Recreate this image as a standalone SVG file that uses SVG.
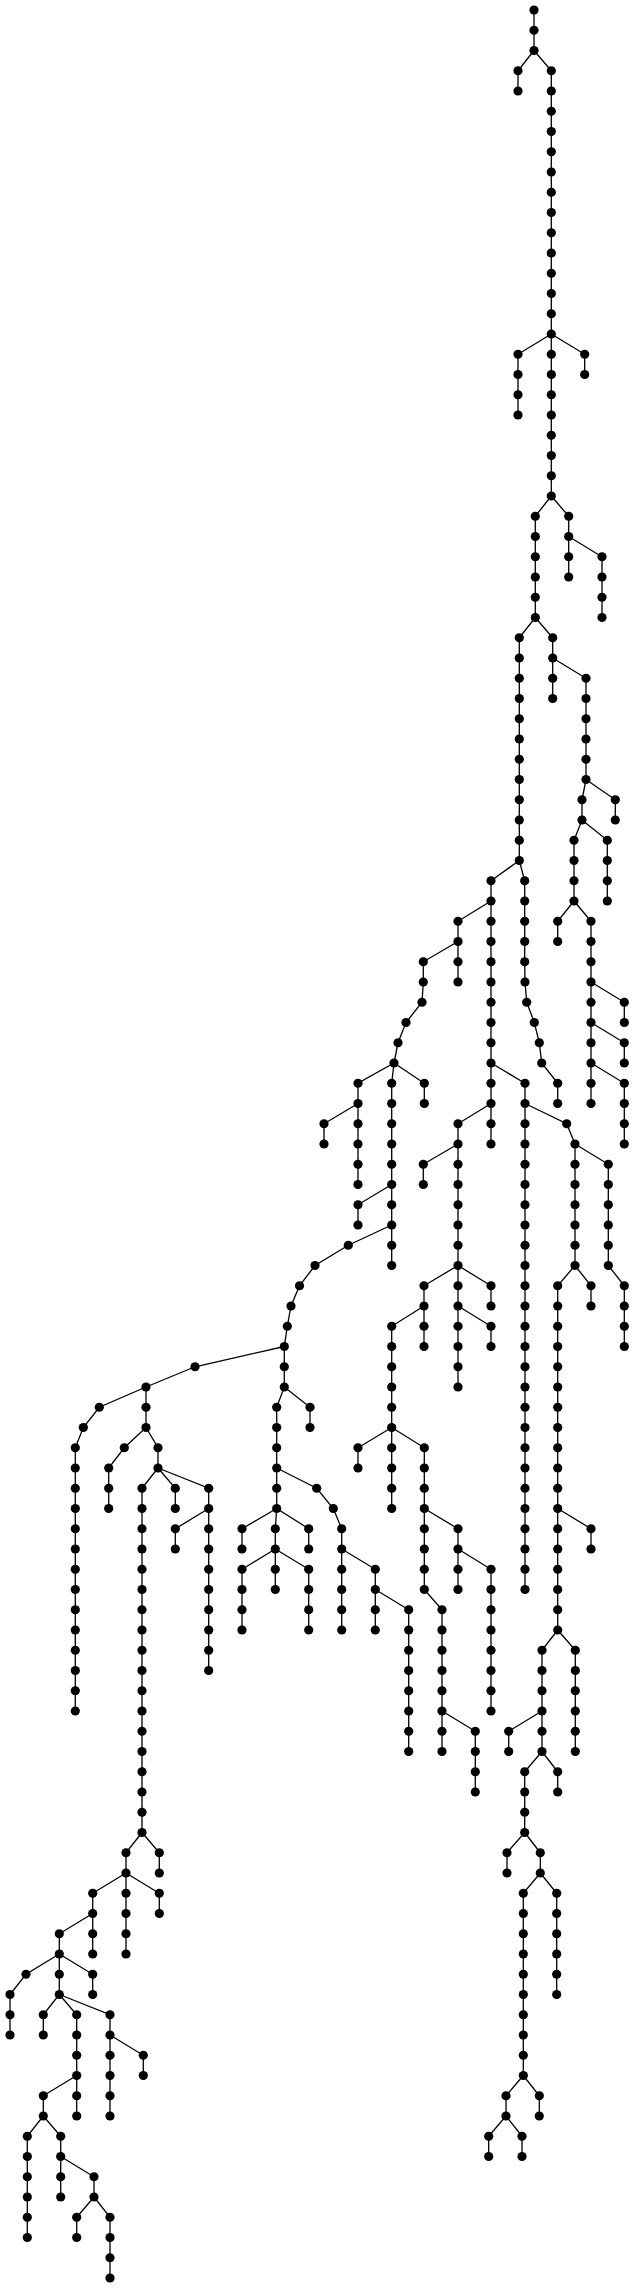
<svg xmlns="http://www.w3.org/2000/svg" width="635" height="2290" viewBox="0 0 635 2290">
<style>
.bg{fill:#fff}
#edges path{fill:none;stroke:#000;stroke-width:1.3}
.nd{fill:#000}
</style>
<defs><circle id="d" class="nd" cx="0" cy="0" r="4.6"/></defs>
<rect class="bg" x="0" y="0" width="635" height="2290"/>
<g id="edges">
<path d="M534 10V50.5"/>
<path d="M534 50.5L518 70.75V91"/>
<path d="M534 50.5L551.3 70.75V334"/>
<path d="M551.3 334L518 354.25V415"/>
<path d="M551.3 334V496"/>
<path d="M551.3 334L584.7 354.25V374.5"/>
<path d="M551.3 496L535.3 516.25V617.5"/>
<path d="M551.3 496L568.7 516.25V577"/>
<path d="M568.7 536.5L602 556.75V617.5"/>
<path d="M535.3 617.5L519.3 637.75V860.5"/>
<path d="M535.3 617.5L552.7 637.75V698.5"/>
<path d="M552.7 658L586 678.25V779.5"/>
<path d="M586 779.5L582 799.75V820"/>
<path d="M586 779.5L615.3 799.75V820"/>
<path d="M582 820L574 840.25V901"/>
<path d="M582 820L607.3 840.25V901"/>
<path d="M574 901L557.7 921.25V941.5"/>
<path d="M574 901L591 921.25V1103.5"/>
<path d="M591 982L624.3 1002.25V1022.5"/>
<path d="M591 1022.5L624.3 1042.75V1063"/>
<path d="M591 1063L624.3 1083.25V1144"/>
<path d="M519.3 860.5L491 880.75V901"/>
<path d="M519.3 860.5L524.7 880.75V961.75L525 982L526.7 1002.25L534.3 1022.5L539.3 1042.75L541.7 1063L557.7 1083.25V1103.5"/>
<path d="M491 901L458 921.25V982"/>
<path d="M491 901V1144"/>
<path d="M458 941.5L423.3 961.75V982L422 1002.25L406 1022.5L398 1042.75L394 1063"/>
<path d="M394 1063L358 1083.25V1184.5"/>
<path d="M394 1063L391.7 1083.25V1265.5"/>
<path d="M394 1063L424.3 1083.25V1103.5"/>
<path d="M358 1103.5L324 1123.75V1144"/>
<path d="M391.7 1184.5L358 1204.75V1225"/>
<path d="M391.7 1225L348.3 1245.25L315 1265.5L299.5 1285.75L291 1306L287.3 1326.25L284.3 1346.5"/>
<path d="M491 1063L525 1083.25V1589.5"/>
<path d="M525 1103.5L566.7 1123.75L575 1144"/>
<path d="M575 1144V1265.5"/>
<path d="M575 1144L608.3 1164.25V1265.5"/>
<path d="M575 1265.5L557.7 1285.75V1630"/>
<path d="M575 1265.5L591 1285.75V1306"/>
<path d="M608.3 1265.5L624.3 1285.75V1346.5"/>
<path d="M491 1103.5L458 1123.75V1265.5"/>
<path d="M458 1144L423.3 1164.25V1184.5"/>
<path d="M458 1265.5L424 1285.75V1306"/>
<path d="M458 1265.5V1387"/>
<path d="M458 1265.5L491 1285.75V1306"/>
<path d="M458 1306L491 1326.25V1346.5"/>
<path d="M424 1306L391.7 1326.25V1427.5"/>
<path d="M424 1306V1346.5"/>
<path d="M391.7 1427.5L358 1447.75V1468"/>
<path d="M391.7 1427.5V1508.5"/>
<path d="M391.7 1427.5L424.3 1447.75V1589.5L442 1609.75V1751.5"/>
<path d="M424.3 1508.5L458 1528.75V1589.5"/>
<path d="M458 1549L491 1569.25V1711"/>
<path d="M442 1711L475.3 1731.25V1792"/>
<path d="M557.7 1508.5L591 1528.75V1549"/>
<path d="M557.7 1630L542 1650.25V1751.5"/>
<path d="M557.7 1630L575.3 1650.25V1751.5"/>
<path d="M542 1711L508.7 1731.25V1751.5"/>
<path d="M542 1751.5L524.7 1771.75V1832.5"/>
<path d="M542 1751.5L557.7 1771.75V1792"/>
<path d="M524.7 1832.5L507 1852.75V1873"/>
<path d="M524.7 1832.5L540.3 1852.75V1873"/>
<path d="M540.3 1873L523.3 1893.25V2075.5"/>
<path d="M540.3 1873L556.7 1893.25V1994.5"/>
<path d="M523.3 2075.5L506 2095.75V2116"/>
<path d="M523.3 2075.5L539.3 2095.75V2116"/>
<path d="M506 2116L488.7 2136.25V2156.5"/>
<path d="M506 2116L522 2136.25V2156.5"/>
<path d="M284.3 1346.5L195 1366.75L146 1387"/>
<path d="M284.3 1346.5V1387"/>
<path d="M284.3 1387L276.7 1407.25V1508.5"/>
<path d="M284.3 1387L310 1407.25V1427.5"/>
<path d="M276.7 1468L316.7 1488.25L333.3 1508.5L341.7 1528.75V1630"/>
<path d="M341.7 1549L375.3 1569.25V1630"/>
<path d="M375.3 1589.5L408.7 1609.75V1751.5"/>
<path d="M276.7 1508.5L242 1528.75V1549"/>
<path d="M276.7 1508.5L275.3 1528.75V1549"/>
<path d="M276.7 1508.5L308.7 1528.75V1549"/>
<path d="M275.3 1549L242 1569.25V1630"/>
<path d="M275.3 1549V1589.5"/>
<path d="M275.3 1549L308.7 1569.25V1630"/>
<path d="M146 1387L99.3 1407.25L83.3 1427.5L75.3 1447.75V1711"/>
<path d="M146 1387V1427.5"/>
<path d="M146 1427.5L124.3 1447.75L108.7 1468V1508.5"/>
<path d="M146 1427.5L158 1447.75V1468"/>
<path d="M158 1468L142 1488.25V1832.5"/>
<path d="M158 1468L175.3 1488.25V1508.5"/>
<path d="M158 1468L208.7 1488.25V1670.5"/>
<path d="M208.7 1508.5L175.3 1528.75V1549"/>
<path d="M142 1832.5L126 1852.75V1954"/>
<path d="M142 1832.5L159.3 1852.75V1873"/>
<path d="M126 1873L92.7 1893.25V1954"/>
<path d="M126 1873L159.3 1893.25V1913.5"/>
<path d="M92.7 1913.5L59.3 1933.75V1994.5"/>
<path d="M59.3 1954L26 1974.25L10 1994.5V2035"/>
<path d="M59.3 1954L92.7 1974.25V1994.5"/>
<path d="M59.3 1994.5L43.3 2014.75V2035"/>
<path d="M59.3 1994.5L76.7 2014.75V2116"/>
<path d="M59.3 1994.5L110 2014.75V2116"/>
<path d="M110 2035L143.3 2055.25V2075.5"/>
<path d="M76.7 2075.5L43.3 2095.75V2116"/>
<path d="M43.3 2116L27.3 2136.25V2237.5"/>
<path d="M43.3 2116L60.7 2136.25V2197"/>
<path d="M60.7 2156.5L94 2176.75V2197"/>
<path d="M94 2197L76.7 2217.25V2237.5"/>
<path d="M94 2197L110 2217.25V2278"/>
</g>
<g id="nodes">
<g id="n0"><use href="#d" x="534" y="10"/></g>
<g id="n1"><use href="#d" x="534" y="30.25"/></g>
<g id="n2"><use href="#d" x="534" y="50.5"/></g>
<g id="n3"><use href="#d" x="518" y="70.75"/></g>
<g id="n4"><use href="#d" x="518" y="91"/></g>
<g id="n5"><use href="#d" x="551.3" y="70.75"/></g>
<g id="n6"><use href="#d" x="551.3" y="91"/></g>
<g id="n7"><use href="#d" x="551.3" y="111.25"/></g>
<g id="n8"><use href="#d" x="551.3" y="131.5"/></g>
<g id="n9"><use href="#d" x="551.3" y="151.75"/></g>
<g id="n10"><use href="#d" x="551.3" y="172"/></g>
<g id="n11"><use href="#d" x="551.3" y="192.25"/></g>
<g id="n12"><use href="#d" x="551.3" y="212.5"/></g>
<g id="n13"><use href="#d" x="551.3" y="232.75"/></g>
<g id="n14"><use href="#d" x="551.3" y="253"/></g>
<g id="n15"><use href="#d" x="551.3" y="273.25"/></g>
<g id="n16"><use href="#d" x="551.3" y="293.5"/></g>
<g id="n17"><use href="#d" x="551.3" y="313.75"/></g>
<g id="n18"><use href="#d" x="551.3" y="334"/></g>
<g id="n19"><use href="#d" x="518" y="354.25"/></g>
<g id="n20"><use href="#d" x="518" y="374.5"/></g>
<g id="n21"><use href="#d" x="518" y="394.75"/></g>
<g id="n22"><use href="#d" x="518" y="415"/></g>
<g id="n23"><use href="#d" x="551.3" y="354.25"/></g>
<g id="n24"><use href="#d" x="551.3" y="374.5"/></g>
<g id="n25"><use href="#d" x="551.3" y="394.75"/></g>
<g id="n26"><use href="#d" x="551.3" y="415"/></g>
<g id="n27"><use href="#d" x="551.3" y="435.25"/></g>
<g id="n28"><use href="#d" x="551.3" y="455.5"/></g>
<g id="n29"><use href="#d" x="551.3" y="475.75"/></g>
<g id="n30"><use href="#d" x="551.3" y="496"/></g>
<g id="n31"><use href="#d" x="584.7" y="354.25"/></g>
<g id="n32"><use href="#d" x="584.7" y="374.5"/></g>
<g id="n33"><use href="#d" x="535.3" y="516.25"/></g>
<g id="n34"><use href="#d" x="535.3" y="536.5"/></g>
<g id="n35"><use href="#d" x="535.3" y="556.75"/></g>
<g id="n36"><use href="#d" x="535.3" y="577"/></g>
<g id="n37"><use href="#d" x="535.3" y="597.25"/></g>
<g id="n38"><use href="#d" x="535.3" y="617.5"/></g>
<g id="n39"><use href="#d" x="568.7" y="516.25"/></g>
<g id="n40"><use href="#d" x="568.7" y="536.5"/></g>
<g id="n41"><use href="#d" x="568.7" y="556.75"/></g>
<g id="n42"><use href="#d" x="568.7" y="577"/></g>
<g id="n43"><use href="#d" x="602" y="556.75"/></g>
<g id="n44"><use href="#d" x="602" y="577"/></g>
<g id="n45"><use href="#d" x="602" y="597.25"/></g>
<g id="n46"><use href="#d" x="602" y="617.5"/></g>
<g id="n47"><use href="#d" x="519.3" y="637.75"/></g>
<g id="n48"><use href="#d" x="519.3" y="658"/></g>
<g id="n49"><use href="#d" x="519.3" y="678.25"/></g>
<g id="n50"><use href="#d" x="519.3" y="698.5"/></g>
<g id="n51"><use href="#d" x="519.3" y="718.75"/></g>
<g id="n52"><use href="#d" x="519.3" y="739"/></g>
<g id="n53"><use href="#d" x="519.3" y="759.25"/></g>
<g id="n54"><use href="#d" x="519.3" y="779.5"/></g>
<g id="n55"><use href="#d" x="519.3" y="799.75"/></g>
<g id="n56"><use href="#d" x="519.3" y="820"/></g>
<g id="n57"><use href="#d" x="519.3" y="840.25"/></g>
<g id="n58"><use href="#d" x="519.3" y="860.5"/></g>
<g id="n59"><use href="#d" x="552.7" y="637.75"/></g>
<g id="n60"><use href="#d" x="552.7" y="658"/></g>
<g id="n61"><use href="#d" x="552.7" y="678.25"/></g>
<g id="n62"><use href="#d" x="552.7" y="698.5"/></g>
<g id="n63"><use href="#d" x="586" y="678.25"/></g>
<g id="n64"><use href="#d" x="586" y="698.5"/></g>
<g id="n65"><use href="#d" x="586" y="718.75"/></g>
<g id="n66"><use href="#d" x="586" y="739"/></g>
<g id="n67"><use href="#d" x="586" y="759.25"/></g>
<g id="n68"><use href="#d" x="586" y="779.5"/></g>
<g id="n69"><use href="#d" x="582" y="799.75"/></g>
<g id="n70"><use href="#d" x="582" y="820"/></g>
<g id="n71"><use href="#d" x="615.3" y="799.75"/></g>
<g id="n72"><use href="#d" x="615.3" y="820"/></g>
<g id="n73"><use href="#d" x="574" y="840.25"/></g>
<g id="n74"><use href="#d" x="574" y="860.5"/></g>
<g id="n75"><use href="#d" x="574" y="880.75"/></g>
<g id="n76"><use href="#d" x="574" y="901"/></g>
<g id="n77"><use href="#d" x="607.3" y="840.25"/></g>
<g id="n78"><use href="#d" x="607.3" y="860.5"/></g>
<g id="n79"><use href="#d" x="607.3" y="880.75"/></g>
<g id="n80"><use href="#d" x="607.3" y="901"/></g>
<g id="n81"><use href="#d" x="557.7" y="921.25"/></g>
<g id="n82"><use href="#d" x="557.7" y="941.5"/></g>
<g id="n83"><use href="#d" x="591" y="921.25"/></g>
<g id="n84"><use href="#d" x="591" y="941.5"/></g>
<g id="n85"><use href="#d" x="591" y="961.75"/></g>
<g id="n86"><use href="#d" x="591" y="982"/></g>
<g id="n87"><use href="#d" x="591" y="1002.25"/></g>
<g id="n88"><use href="#d" x="591" y="1022.5"/></g>
<g id="n89"><use href="#d" x="591" y="1042.75"/></g>
<g id="n90"><use href="#d" x="591" y="1063"/></g>
<g id="n91"><use href="#d" x="591" y="1083.25"/></g>
<g id="n92"><use href="#d" x="591" y="1103.5"/></g>
<g id="n93"><use href="#d" x="624.3" y="1002.25"/></g>
<g id="n94"><use href="#d" x="624.3" y="1022.5"/></g>
<g id="n95"><use href="#d" x="624.3" y="1042.75"/></g>
<g id="n96"><use href="#d" x="624.3" y="1063"/></g>
<g id="n97"><use href="#d" x="624.3" y="1083.25"/></g>
<g id="n98"><use href="#d" x="624.3" y="1103.5"/></g>
<g id="n99"><use href="#d" x="624.3" y="1123.75"/></g>
<g id="n100"><use href="#d" x="624.3" y="1144"/></g>
<g id="n101"><use href="#d" x="491" y="880.75"/></g>
<g id="n102"><use href="#d" x="491" y="901"/></g>
<g id="n103"><use href="#d" x="524.7" y="880.75"/></g>
<g id="n104"><use href="#d" x="524.7" y="901"/></g>
<g id="n105"><use href="#d" x="524.7" y="921.25"/></g>
<g id="n106"><use href="#d" x="524.7" y="941.5"/></g>
<g id="n107"><use href="#d" x="524.7" y="961.75"/></g>
<g id="n108"><use href="#d" x="525" y="982"/></g>
<g id="n109"><use href="#d" x="526.7" y="1002.25"/></g>
<g id="n110"><use href="#d" x="534.3" y="1022.5"/></g>
<g id="n111"><use href="#d" x="539.3" y="1042.75"/></g>
<g id="n112"><use href="#d" x="541.7" y="1063"/></g>
<g id="n113"><use href="#d" x="557.7" y="1083.25"/></g>
<g id="n114"><use href="#d" x="557.7" y="1103.5"/></g>
<g id="n115"><use href="#d" x="458" y="921.25"/></g>
<g id="n116"><use href="#d" x="458" y="941.5"/></g>
<g id="n117"><use href="#d" x="458" y="961.75"/></g>
<g id="n118"><use href="#d" x="458" y="982"/></g>
<g id="n119"><use href="#d" x="491" y="921.25"/></g>
<g id="n120"><use href="#d" x="491" y="941.5"/></g>
<g id="n121"><use href="#d" x="491" y="961.75"/></g>
<g id="n122"><use href="#d" x="491" y="982"/></g>
<g id="n123"><use href="#d" x="491" y="1002.25"/></g>
<g id="n124"><use href="#d" x="491" y="1022.5"/></g>
<g id="n125"><use href="#d" x="491" y="1042.75"/></g>
<g id="n126"><use href="#d" x="491" y="1063"/></g>
<g id="n127"><use href="#d" x="491" y="1083.25"/></g>
<g id="n128"><use href="#d" x="491" y="1103.5"/></g>
<g id="n129"><use href="#d" x="491" y="1123.75"/></g>
<g id="n130"><use href="#d" x="491" y="1144"/></g>
<g id="n131"><use href="#d" x="423.3" y="961.75"/></g>
<g id="n132"><use href="#d" x="423.3" y="982"/></g>
<g id="n133"><use href="#d" x="422" y="1002.25"/></g>
<g id="n134"><use href="#d" x="406" y="1022.5"/></g>
<g id="n135"><use href="#d" x="398" y="1042.75"/></g>
<g id="n136"><use href="#d" x="394" y="1063"/></g>
<g id="n137"><use href="#d" x="358" y="1083.25"/></g>
<g id="n138"><use href="#d" x="358" y="1103.5"/></g>
<g id="n139"><use href="#d" x="358" y="1123.75"/></g>
<g id="n140"><use href="#d" x="358" y="1144"/></g>
<g id="n141"><use href="#d" x="358" y="1164.25"/></g>
<g id="n142"><use href="#d" x="358" y="1184.5"/></g>
<g id="n143"><use href="#d" x="391.7" y="1083.25"/></g>
<g id="n144"><use href="#d" x="391.7" y="1103.5"/></g>
<g id="n145"><use href="#d" x="391.7" y="1123.75"/></g>
<g id="n146"><use href="#d" x="391.7" y="1144"/></g>
<g id="n147"><use href="#d" x="391.7" y="1164.25"/></g>
<g id="n148"><use href="#d" x="391.7" y="1184.5"/></g>
<g id="n149"><use href="#d" x="391.7" y="1204.75"/></g>
<g id="n150"><use href="#d" x="391.7" y="1225"/></g>
<g id="n151"><use href="#d" x="391.7" y="1245.25"/></g>
<g id="n152"><use href="#d" x="391.7" y="1265.5"/></g>
<g id="n153"><use href="#d" x="424.3" y="1083.25"/></g>
<g id="n154"><use href="#d" x="424.3" y="1103.5"/></g>
<g id="n155"><use href="#d" x="324" y="1123.75"/></g>
<g id="n156"><use href="#d" x="324" y="1144"/></g>
<g id="n157"><use href="#d" x="358" y="1204.75"/></g>
<g id="n158"><use href="#d" x="358" y="1225"/></g>
<g id="n159"><use href="#d" x="348.3" y="1245.25"/></g>
<g id="n160"><use href="#d" x="315" y="1265.5"/></g>
<g id="n161"><use href="#d" x="299.5" y="1285.75"/></g>
<g id="n162"><use href="#d" x="291" y="1306"/></g>
<g id="n163"><use href="#d" x="287.3" y="1326.25"/></g>
<g id="n164"><use href="#d" x="284.3" y="1346.5"/></g>
<g id="n165"><use href="#d" x="525" y="1083.25"/></g>
<g id="n166"><use href="#d" x="525" y="1103.5"/></g>
<g id="n167"><use href="#d" x="525" y="1123.75"/></g>
<g id="n168"><use href="#d" x="525" y="1144"/></g>
<g id="n169"><use href="#d" x="525" y="1164.25"/></g>
<g id="n170"><use href="#d" x="525" y="1184.5"/></g>
<g id="n171"><use href="#d" x="525" y="1204.75"/></g>
<g id="n172"><use href="#d" x="525" y="1225"/></g>
<g id="n173"><use href="#d" x="525" y="1245.25"/></g>
<g id="n174"><use href="#d" x="525" y="1265.5"/></g>
<g id="n175"><use href="#d" x="525" y="1285.75"/></g>
<g id="n176"><use href="#d" x="525" y="1306"/></g>
<g id="n177"><use href="#d" x="525" y="1326.25"/></g>
<g id="n178"><use href="#d" x="525" y="1346.5"/></g>
<g id="n179"><use href="#d" x="525" y="1366.75"/></g>
<g id="n180"><use href="#d" x="525" y="1387"/></g>
<g id="n181"><use href="#d" x="525" y="1407.25"/></g>
<g id="n182"><use href="#d" x="525" y="1427.5"/></g>
<g id="n183"><use href="#d" x="525" y="1447.75"/></g>
<g id="n184"><use href="#d" x="525" y="1468"/></g>
<g id="n185"><use href="#d" x="525" y="1488.25"/></g>
<g id="n186"><use href="#d" x="525" y="1508.5"/></g>
<g id="n187"><use href="#d" x="525" y="1528.75"/></g>
<g id="n188"><use href="#d" x="525" y="1549"/></g>
<g id="n189"><use href="#d" x="525" y="1569.25"/></g>
<g id="n190"><use href="#d" x="525" y="1589.5"/></g>
<g id="n191"><use href="#d" x="566.7" y="1123.75"/></g>
<g id="n192"><use href="#d" x="575" y="1144"/></g>
<g id="n193"><use href="#d" x="575" y="1164.25"/></g>
<g id="n194"><use href="#d" x="575" y="1184.5"/></g>
<g id="n195"><use href="#d" x="575" y="1204.75"/></g>
<g id="n196"><use href="#d" x="575" y="1225"/></g>
<g id="n197"><use href="#d" x="575" y="1245.25"/></g>
<g id="n198"><use href="#d" x="575" y="1265.5"/></g>
<g id="n199"><use href="#d" x="608.3" y="1164.25"/></g>
<g id="n200"><use href="#d" x="608.3" y="1184.5"/></g>
<g id="n201"><use href="#d" x="608.3" y="1204.75"/></g>
<g id="n202"><use href="#d" x="608.3" y="1225"/></g>
<g id="n203"><use href="#d" x="608.3" y="1245.25"/></g>
<g id="n204"><use href="#d" x="608.3" y="1265.5"/></g>
<g id="n205"><use href="#d" x="557.7" y="1285.75"/></g>
<g id="n206"><use href="#d" x="557.7" y="1306"/></g>
<g id="n207"><use href="#d" x="557.7" y="1326.25"/></g>
<g id="n208"><use href="#d" x="557.7" y="1346.5"/></g>
<g id="n209"><use href="#d" x="557.7" y="1366.75"/></g>
<g id="n210"><use href="#d" x="557.7" y="1387"/></g>
<g id="n211"><use href="#d" x="557.7" y="1407.25"/></g>
<g id="n212"><use href="#d" x="557.7" y="1427.5"/></g>
<g id="n213"><use href="#d" x="557.7" y="1447.75"/></g>
<g id="n214"><use href="#d" x="557.7" y="1468"/></g>
<g id="n215"><use href="#d" x="557.7" y="1488.25"/></g>
<g id="n216"><use href="#d" x="557.7" y="1508.5"/></g>
<g id="n217"><use href="#d" x="557.7" y="1528.75"/></g>
<g id="n218"><use href="#d" x="557.7" y="1549"/></g>
<g id="n219"><use href="#d" x="557.7" y="1569.25"/></g>
<g id="n220"><use href="#d" x="557.7" y="1589.5"/></g>
<g id="n221"><use href="#d" x="557.7" y="1609.75"/></g>
<g id="n222"><use href="#d" x="557.7" y="1630"/></g>
<g id="n223"><use href="#d" x="591" y="1285.75"/></g>
<g id="n224"><use href="#d" x="591" y="1306"/></g>
<g id="n225"><use href="#d" x="624.3" y="1285.75"/></g>
<g id="n226"><use href="#d" x="624.3" y="1306"/></g>
<g id="n227"><use href="#d" x="624.3" y="1326.25"/></g>
<g id="n228"><use href="#d" x="624.3" y="1346.5"/></g>
<g id="n229"><use href="#d" x="458" y="1123.75"/></g>
<g id="n230"><use href="#d" x="458" y="1144"/></g>
<g id="n231"><use href="#d" x="458" y="1164.25"/></g>
<g id="n232"><use href="#d" x="458" y="1184.5"/></g>
<g id="n233"><use href="#d" x="458" y="1204.75"/></g>
<g id="n234"><use href="#d" x="458" y="1225"/></g>
<g id="n235"><use href="#d" x="458" y="1245.25"/></g>
<g id="n236"><use href="#d" x="458" y="1265.5"/></g>
<g id="n237"><use href="#d" x="423.3" y="1164.25"/></g>
<g id="n238"><use href="#d" x="423.3" y="1184.5"/></g>
<g id="n239"><use href="#d" x="424" y="1285.75"/></g>
<g id="n240"><use href="#d" x="424" y="1306"/></g>
<g id="n241"><use href="#d" x="458" y="1285.75"/></g>
<g id="n242"><use href="#d" x="458" y="1306"/></g>
<g id="n243"><use href="#d" x="458" y="1326.25"/></g>
<g id="n244"><use href="#d" x="458" y="1346.5"/></g>
<g id="n245"><use href="#d" x="458" y="1366.75"/></g>
<g id="n246"><use href="#d" x="458" y="1387"/></g>
<g id="n247"><use href="#d" x="491" y="1285.75"/></g>
<g id="n248"><use href="#d" x="491" y="1306"/></g>
<g id="n249"><use href="#d" x="491" y="1326.25"/></g>
<g id="n250"><use href="#d" x="491" y="1346.5"/></g>
<g id="n251"><use href="#d" x="391.7" y="1326.25"/></g>
<g id="n252"><use href="#d" x="391.7" y="1346.5"/></g>
<g id="n253"><use href="#d" x="391.7" y="1366.75"/></g>
<g id="n254"><use href="#d" x="391.7" y="1387"/></g>
<g id="n255"><use href="#d" x="391.7" y="1407.25"/></g>
<g id="n256"><use href="#d" x="391.7" y="1427.5"/></g>
<g id="n257"><use href="#d" x="424" y="1326.25"/></g>
<g id="n258"><use href="#d" x="424" y="1346.5"/></g>
<g id="n259"><use href="#d" x="358" y="1447.75"/></g>
<g id="n260"><use href="#d" x="358" y="1468"/></g>
<g id="n261"><use href="#d" x="391.7" y="1447.75"/></g>
<g id="n262"><use href="#d" x="391.7" y="1468"/></g>
<g id="n263"><use href="#d" x="391.7" y="1488.25"/></g>
<g id="n264"><use href="#d" x="391.7" y="1508.5"/></g>
<g id="n265"><use href="#d" x="424.3" y="1447.75"/></g>
<g id="n266"><use href="#d" x="424.3" y="1468"/></g>
<g id="n267"><use href="#d" x="424.3" y="1488.25"/></g>
<g id="n268"><use href="#d" x="424.3" y="1508.5"/></g>
<g id="n269"><use href="#d" x="424.3" y="1528.75"/></g>
<g id="n270"><use href="#d" x="424.3" y="1549"/></g>
<g id="n271"><use href="#d" x="424.3" y="1569.25"/></g>
<g id="n272"><use href="#d" x="424.3" y="1589.5"/></g>
<g id="n273"><use href="#d" x="442" y="1609.75"/></g>
<g id="n274"><use href="#d" x="442" y="1630"/></g>
<g id="n275"><use href="#d" x="442" y="1650.25"/></g>
<g id="n276"><use href="#d" x="442" y="1670.5"/></g>
<g id="n277"><use href="#d" x="442" y="1690.75"/></g>
<g id="n278"><use href="#d" x="442" y="1711"/></g>
<g id="n279"><use href="#d" x="442" y="1731.25"/></g>
<g id="n280"><use href="#d" x="442" y="1751.5"/></g>
<g id="n281"><use href="#d" x="458" y="1528.75"/></g>
<g id="n282"><use href="#d" x="458" y="1549"/></g>
<g id="n283"><use href="#d" x="458" y="1569.25"/></g>
<g id="n284"><use href="#d" x="458" y="1589.5"/></g>
<g id="n285"><use href="#d" x="491" y="1569.25"/></g>
<g id="n286"><use href="#d" x="491" y="1589.5"/></g>
<g id="n287"><use href="#d" x="491" y="1609.75"/></g>
<g id="n288"><use href="#d" x="491" y="1630"/></g>
<g id="n289"><use href="#d" x="491" y="1650.25"/></g>
<g id="n290"><use href="#d" x="491" y="1670.5"/></g>
<g id="n291"><use href="#d" x="491" y="1690.75"/></g>
<g id="n292"><use href="#d" x="491" y="1711"/></g>
<g id="n293"><use href="#d" x="475.3" y="1731.25"/></g>
<g id="n294"><use href="#d" x="475.3" y="1751.5"/></g>
<g id="n295"><use href="#d" x="475.3" y="1771.75"/></g>
<g id="n296"><use href="#d" x="475.3" y="1792"/></g>
<g id="n297"><use href="#d" x="591" y="1528.75"/></g>
<g id="n298"><use href="#d" x="591" y="1549"/></g>
<g id="n299"><use href="#d" x="542" y="1650.25"/></g>
<g id="n300"><use href="#d" x="542" y="1670.5"/></g>
<g id="n301"><use href="#d" x="542" y="1690.75"/></g>
<g id="n302"><use href="#d" x="542" y="1711"/></g>
<g id="n303"><use href="#d" x="542" y="1731.25"/></g>
<g id="n304"><use href="#d" x="542" y="1751.5"/></g>
<g id="n305"><use href="#d" x="575.3" y="1650.25"/></g>
<g id="n306"><use href="#d" x="575.3" y="1670.5"/></g>
<g id="n307"><use href="#d" x="575.3" y="1690.75"/></g>
<g id="n308"><use href="#d" x="575.3" y="1711"/></g>
<g id="n309"><use href="#d" x="575.3" y="1731.25"/></g>
<g id="n310"><use href="#d" x="575.3" y="1751.5"/></g>
<g id="n311"><use href="#d" x="508.7" y="1731.25"/></g>
<g id="n312"><use href="#d" x="508.7" y="1751.5"/></g>
<g id="n313"><use href="#d" x="524.7" y="1771.75"/></g>
<g id="n314"><use href="#d" x="524.7" y="1792"/></g>
<g id="n315"><use href="#d" x="524.7" y="1812.25"/></g>
<g id="n316"><use href="#d" x="524.7" y="1832.5"/></g>
<g id="n317"><use href="#d" x="557.7" y="1771.75"/></g>
<g id="n318"><use href="#d" x="557.7" y="1792"/></g>
<g id="n319"><use href="#d" x="507" y="1852.75"/></g>
<g id="n320"><use href="#d" x="507" y="1873"/></g>
<g id="n321"><use href="#d" x="540.3" y="1852.75"/></g>
<g id="n322"><use href="#d" x="540.3" y="1873"/></g>
<g id="n323"><use href="#d" x="523.3" y="1893.25"/></g>
<g id="n324"><use href="#d" x="523.3" y="1913.5"/></g>
<g id="n325"><use href="#d" x="523.3" y="1933.75"/></g>
<g id="n326"><use href="#d" x="523.3" y="1954"/></g>
<g id="n327"><use href="#d" x="523.3" y="1974.25"/></g>
<g id="n328"><use href="#d" x="523.3" y="1994.5"/></g>
<g id="n329"><use href="#d" x="523.3" y="2014.75"/></g>
<g id="n330"><use href="#d" x="523.3" y="2035"/></g>
<g id="n331"><use href="#d" x="523.3" y="2055.25"/></g>
<g id="n332"><use href="#d" x="523.3" y="2075.5"/></g>
<g id="n333"><use href="#d" x="556.7" y="1893.25"/></g>
<g id="n334"><use href="#d" x="556.7" y="1913.5"/></g>
<g id="n335"><use href="#d" x="556.7" y="1933.75"/></g>
<g id="n336"><use href="#d" x="556.7" y="1954"/></g>
<g id="n337"><use href="#d" x="556.7" y="1974.25"/></g>
<g id="n338"><use href="#d" x="556.7" y="1994.5"/></g>
<g id="n339"><use href="#d" x="506" y="2095.75"/></g>
<g id="n340"><use href="#d" x="506" y="2116"/></g>
<g id="n341"><use href="#d" x="539.3" y="2095.75"/></g>
<g id="n342"><use href="#d" x="539.3" y="2116"/></g>
<g id="n343"><use href="#d" x="488.7" y="2136.25"/></g>
<g id="n344"><use href="#d" x="488.7" y="2156.5"/></g>
<g id="n345"><use href="#d" x="522" y="2136.25"/></g>
<g id="n346"><use href="#d" x="522" y="2156.5"/></g>
<g id="n347"><use href="#d" x="195" y="1366.75"/></g>
<g id="n348"><use href="#d" x="146" y="1387"/></g>
<g id="n349"><use href="#d" x="284.3" y="1366.75"/></g>
<g id="n350"><use href="#d" x="284.3" y="1387"/></g>
<g id="n351"><use href="#d" x="276.7" y="1407.25"/></g>
<g id="n352"><use href="#d" x="276.7" y="1427.5"/></g>
<g id="n353"><use href="#d" x="276.7" y="1447.75"/></g>
<g id="n354"><use href="#d" x="276.7" y="1468"/></g>
<g id="n355"><use href="#d" x="276.7" y="1488.25"/></g>
<g id="n356"><use href="#d" x="276.7" y="1508.5"/></g>
<g id="n357"><use href="#d" x="310" y="1407.25"/></g>
<g id="n358"><use href="#d" x="310" y="1427.5"/></g>
<g id="n359"><use href="#d" x="316.7" y="1488.25"/></g>
<g id="n360"><use href="#d" x="333.3" y="1508.5"/></g>
<g id="n361"><use href="#d" x="341.7" y="1528.75"/></g>
<g id="n362"><use href="#d" x="341.7" y="1549"/></g>
<g id="n363"><use href="#d" x="341.7" y="1569.25"/></g>
<g id="n364"><use href="#d" x="341.7" y="1589.5"/></g>
<g id="n365"><use href="#d" x="341.7" y="1609.75"/></g>
<g id="n366"><use href="#d" x="341.7" y="1630"/></g>
<g id="n367"><use href="#d" x="375.3" y="1569.25"/></g>
<g id="n368"><use href="#d" x="375.3" y="1589.5"/></g>
<g id="n369"><use href="#d" x="375.3" y="1609.75"/></g>
<g id="n370"><use href="#d" x="375.3" y="1630"/></g>
<g id="n371"><use href="#d" x="408.7" y="1609.75"/></g>
<g id="n372"><use href="#d" x="408.7" y="1630"/></g>
<g id="n373"><use href="#d" x="408.7" y="1650.25"/></g>
<g id="n374"><use href="#d" x="408.7" y="1670.5"/></g>
<g id="n375"><use href="#d" x="408.7" y="1690.75"/></g>
<g id="n376"><use href="#d" x="408.7" y="1711"/></g>
<g id="n377"><use href="#d" x="408.7" y="1731.25"/></g>
<g id="n378"><use href="#d" x="408.7" y="1751.5"/></g>
<g id="n379"><use href="#d" x="242" y="1528.75"/></g>
<g id="n380"><use href="#d" x="242" y="1549"/></g>
<g id="n381"><use href="#d" x="275.3" y="1528.75"/></g>
<g id="n382"><use href="#d" x="275.3" y="1549"/></g>
<g id="n383"><use href="#d" x="308.7" y="1528.75"/></g>
<g id="n384"><use href="#d" x="308.7" y="1549"/></g>
<g id="n385"><use href="#d" x="242" y="1569.25"/></g>
<g id="n386"><use href="#d" x="242" y="1589.5"/></g>
<g id="n387"><use href="#d" x="242" y="1609.75"/></g>
<g id="n388"><use href="#d" x="242" y="1630"/></g>
<g id="n389"><use href="#d" x="275.3" y="1569.25"/></g>
<g id="n390"><use href="#d" x="275.3" y="1589.5"/></g>
<g id="n391"><use href="#d" x="308.7" y="1569.25"/></g>
<g id="n392"><use href="#d" x="308.7" y="1589.5"/></g>
<g id="n393"><use href="#d" x="308.7" y="1609.75"/></g>
<g id="n394"><use href="#d" x="308.7" y="1630"/></g>
<g id="n395"><use href="#d" x="99.3" y="1407.25"/></g>
<g id="n396"><use href="#d" x="83.3" y="1427.5"/></g>
<g id="n397"><use href="#d" x="75.3" y="1447.75"/></g>
<g id="n398"><use href="#d" x="75.3" y="1468"/></g>
<g id="n399"><use href="#d" x="75.3" y="1488.25"/></g>
<g id="n400"><use href="#d" x="75.3" y="1508.5"/></g>
<g id="n401"><use href="#d" x="75.3" y="1528.75"/></g>
<g id="n402"><use href="#d" x="75.3" y="1549"/></g>
<g id="n403"><use href="#d" x="75.3" y="1569.25"/></g>
<g id="n404"><use href="#d" x="75.3" y="1589.5"/></g>
<g id="n405"><use href="#d" x="75.3" y="1609.75"/></g>
<g id="n406"><use href="#d" x="75.3" y="1630"/></g>
<g id="n407"><use href="#d" x="75.3" y="1650.25"/></g>
<g id="n408"><use href="#d" x="75.3" y="1670.5"/></g>
<g id="n409"><use href="#d" x="75.3" y="1690.75"/></g>
<g id="n410"><use href="#d" x="75.3" y="1711"/></g>
<g id="n411"><use href="#d" x="146" y="1407.25"/></g>
<g id="n412"><use href="#d" x="146" y="1427.5"/></g>
<g id="n413"><use href="#d" x="124.3" y="1447.75"/></g>
<g id="n414"><use href="#d" x="108.7" y="1468"/></g>
<g id="n415"><use href="#d" x="108.7" y="1488.25"/></g>
<g id="n416"><use href="#d" x="108.7" y="1508.5"/></g>
<g id="n417"><use href="#d" x="158" y="1447.75"/></g>
<g id="n418"><use href="#d" x="158" y="1468"/></g>
<g id="n419"><use href="#d" x="142" y="1488.25"/></g>
<g id="n420"><use href="#d" x="142" y="1508.5"/></g>
<g id="n421"><use href="#d" x="142" y="1528.75"/></g>
<g id="n422"><use href="#d" x="142" y="1549"/></g>
<g id="n423"><use href="#d" x="142" y="1569.25"/></g>
<g id="n424"><use href="#d" x="142" y="1589.5"/></g>
<g id="n425"><use href="#d" x="142" y="1609.75"/></g>
<g id="n426"><use href="#d" x="142" y="1630"/></g>
<g id="n427"><use href="#d" x="142" y="1650.25"/></g>
<g id="n428"><use href="#d" x="142" y="1670.5"/></g>
<g id="n429"><use href="#d" x="142" y="1690.75"/></g>
<g id="n430"><use href="#d" x="142" y="1711"/></g>
<g id="n431"><use href="#d" x="142" y="1731.25"/></g>
<g id="n432"><use href="#d" x="142" y="1751.5"/></g>
<g id="n433"><use href="#d" x="142" y="1771.75"/></g>
<g id="n434"><use href="#d" x="142" y="1792"/></g>
<g id="n435"><use href="#d" x="142" y="1812.25"/></g>
<g id="n436"><use href="#d" x="142" y="1832.5"/></g>
<g id="n437"><use href="#d" x="175.3" y="1488.25"/></g>
<g id="n438"><use href="#d" x="175.3" y="1508.5"/></g>
<g id="n439"><use href="#d" x="208.7" y="1488.25"/></g>
<g id="n440"><use href="#d" x="208.7" y="1508.5"/></g>
<g id="n441"><use href="#d" x="208.7" y="1528.75"/></g>
<g id="n442"><use href="#d" x="208.7" y="1549"/></g>
<g id="n443"><use href="#d" x="208.7" y="1569.25"/></g>
<g id="n444"><use href="#d" x="208.7" y="1589.5"/></g>
<g id="n445"><use href="#d" x="208.7" y="1609.75"/></g>
<g id="n446"><use href="#d" x="208.7" y="1630"/></g>
<g id="n447"><use href="#d" x="208.7" y="1650.25"/></g>
<g id="n448"><use href="#d" x="208.7" y="1670.5"/></g>
<g id="n449"><use href="#d" x="175.3" y="1528.75"/></g>
<g id="n450"><use href="#d" x="175.3" y="1549"/></g>
<g id="n451"><use href="#d" x="126" y="1852.75"/></g>
<g id="n452"><use href="#d" x="126" y="1873"/></g>
<g id="n453"><use href="#d" x="126" y="1893.25"/></g>
<g id="n454"><use href="#d" x="126" y="1913.5"/></g>
<g id="n455"><use href="#d" x="126" y="1933.75"/></g>
<g id="n456"><use href="#d" x="126" y="1954"/></g>
<g id="n457"><use href="#d" x="159.3" y="1852.75"/></g>
<g id="n458"><use href="#d" x="159.3" y="1873"/></g>
<g id="n459"><use href="#d" x="92.7" y="1893.25"/></g>
<g id="n460"><use href="#d" x="92.7" y="1913.5"/></g>
<g id="n461"><use href="#d" x="92.7" y="1933.75"/></g>
<g id="n462"><use href="#d" x="92.7" y="1954"/></g>
<g id="n463"><use href="#d" x="159.3" y="1893.25"/></g>
<g id="n464"><use href="#d" x="159.3" y="1913.5"/></g>
<g id="n465"><use href="#d" x="59.3" y="1933.75"/></g>
<g id="n466"><use href="#d" x="59.3" y="1954"/></g>
<g id="n467"><use href="#d" x="59.3" y="1974.25"/></g>
<g id="n468"><use href="#d" x="59.3" y="1994.5"/></g>
<g id="n469"><use href="#d" x="26" y="1974.25"/></g>
<g id="n470"><use href="#d" x="10" y="1994.5"/></g>
<g id="n471"><use href="#d" x="10" y="2014.75"/></g>
<g id="n472"><use href="#d" x="10" y="2035"/></g>
<g id="n473"><use href="#d" x="92.7" y="1974.25"/></g>
<g id="n474"><use href="#d" x="92.7" y="1994.5"/></g>
<g id="n475"><use href="#d" x="43.3" y="2014.75"/></g>
<g id="n476"><use href="#d" x="43.3" y="2035"/></g>
<g id="n477"><use href="#d" x="76.7" y="2014.75"/></g>
<g id="n478"><use href="#d" x="76.7" y="2035"/></g>
<g id="n479"><use href="#d" x="76.7" y="2055.25"/></g>
<g id="n480"><use href="#d" x="76.7" y="2075.5"/></g>
<g id="n481"><use href="#d" x="76.7" y="2095.75"/></g>
<g id="n482"><use href="#d" x="76.7" y="2116"/></g>
<g id="n483"><use href="#d" x="110" y="2014.75"/></g>
<g id="n484"><use href="#d" x="110" y="2035"/></g>
<g id="n485"><use href="#d" x="110" y="2055.25"/></g>
<g id="n486"><use href="#d" x="110" y="2075.5"/></g>
<g id="n487"><use href="#d" x="110" y="2095.75"/></g>
<g id="n488"><use href="#d" x="110" y="2116"/></g>
<g id="n489"><use href="#d" x="143.3" y="2055.25"/></g>
<g id="n490"><use href="#d" x="143.3" y="2075.5"/></g>
<g id="n491"><use href="#d" x="43.3" y="2095.75"/></g>
<g id="n492"><use href="#d" x="43.3" y="2116"/></g>
<g id="n493"><use href="#d" x="27.3" y="2136.25"/></g>
<g id="n494"><use href="#d" x="27.3" y="2156.5"/></g>
<g id="n495"><use href="#d" x="27.3" y="2176.75"/></g>
<g id="n496"><use href="#d" x="27.3" y="2197"/></g>
<g id="n497"><use href="#d" x="27.3" y="2217.25"/></g>
<g id="n498"><use href="#d" x="27.3" y="2237.5"/></g>
<g id="n499"><use href="#d" x="60.7" y="2136.25"/></g>
<g id="n500"><use href="#d" x="60.7" y="2156.5"/></g>
<g id="n501"><use href="#d" x="60.7" y="2176.75"/></g>
<g id="n502"><use href="#d" x="60.7" y="2197"/></g>
<g id="n503"><use href="#d" x="94" y="2176.75"/></g>
<g id="n504"><use href="#d" x="94" y="2197"/></g>
<g id="n505"><use href="#d" x="76.7" y="2217.25"/></g>
<g id="n506"><use href="#d" x="76.7" y="2237.5"/></g>
<g id="n507"><use href="#d" x="110" y="2217.25"/></g>
<g id="n508"><use href="#d" x="110" y="2237.5"/></g>
<g id="n509"><use href="#d" x="110" y="2257.75"/></g>
<g id="n510"><use href="#d" x="110" y="2278"/></g>
</g>
</svg>
